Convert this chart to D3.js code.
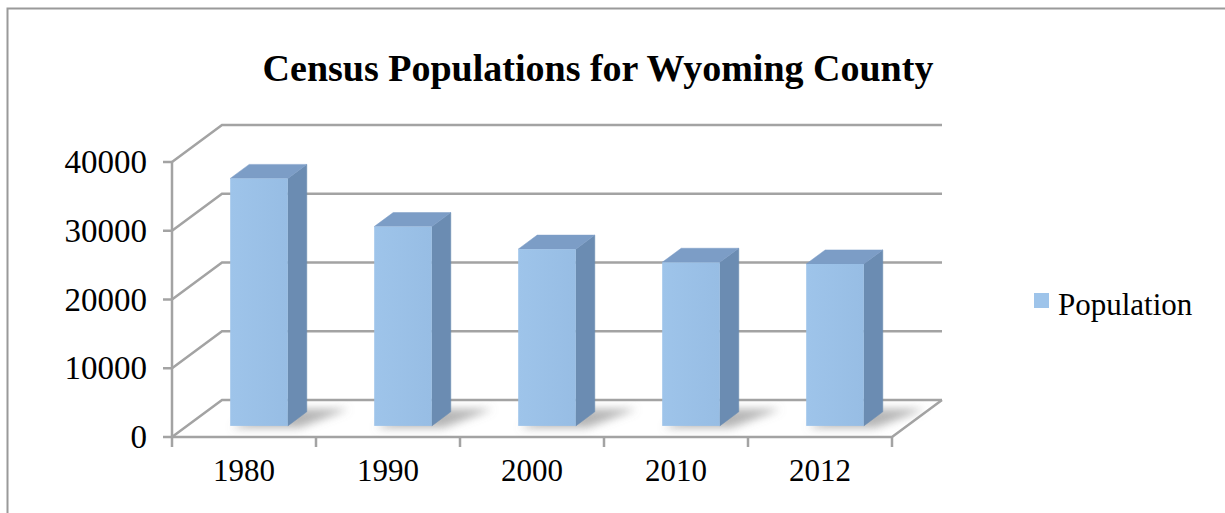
<!DOCTYPE html>
<html>
<head>
<meta charset="utf-8">
<script src="https://cdn.jsdelivr.net/npm/d3@7/dist/d3.min.js"></script>
<style>
  html, body { margin: 0; padding: 0; background: #fff; }
  svg { display: block; }
  text { font-family: "Liberation Serif", "Times New Roman", serif; fill: #000; }
</style>
</head>
<body>
<svg id="chart" width="1225" height="513"></svg>
<script>
// Census populations, Wyoming County
const years = ["1980", "1990", "2000", "2010", "2012"];
const population = [35993, 28990, 25708, 23796, 23550];
const yTicks = [0, 10000, 20000, 30000, 40000];
const seriesName = "Population";
const chartTitle = "Census Populations for Wyoming County";

const W = 1225, H = 513;
const svg = d3.select("#chart");

// front plane of the 3-D box
const x0 = 172, x1 = 892, yBase = 437, yTop = 162;
// depth offset of the back wall
const DX = 50, DY = 37;
// bar occupies this slice of the depth
const f0 = 0.30, f1 = 0.68;

const x = d3.scaleBand().domain(years).range([x0, x1]).paddingInner(0.6).paddingOuter(0.3);
const edge = d3.scaleLinear().domain([0, years.length]).range([x0, x1]);
const y = d3.scaleLinear().domain([0, 40000]).range([yBase, yTop]);

const P = (px, v, f) => [px + f * DX, y(v) - f * DY];
const line = d3.line();

const grid = "#a3a3a3";

// outer frame
svg.append("path")
  .attr("d", `M7.5,${H} L7.5,8.5 L${W},8.5`)
  .attr("fill", "none").attr("stroke", "#9a9a9a").attr("stroke-width", 2);

// title
svg.append("text")
  .attr("x", 598).attr("y", 81)
  .attr("text-anchor", "middle")
  .attr("font-size", 38).attr("font-weight", "bold")
  .text(chartTitle);

const defs = svg.append("defs");
defs.append("filter").attr("id", "soft")
  .attr("x", "-50%").attr("y", "-50%").attr("width", "200%").attr("height", "200%")
  .append("feGaussianBlur").attr("stdDeviation", 4.5);

const gGrid = svg.append("g");

// side wall diagonals and back-wall gridlines
yTicks.forEach(v => {
  gGrid.append("path")
    .attr("d", line([P(x0, v, 0), P(x0, v, 1), P(x1, v, 1)]))
    .attr("fill", "none").attr("stroke", grid).attr("stroke-width", 2.5);
});

// floor: front edge and right edge
gGrid.append("path")
  .attr("d", line([P(x0, 0, 0), P(x1, 0, 0), P(x1, 0, 1)]))
  .attr("fill", "none").attr("stroke", grid).attr("stroke-width", 2.5);

// value axis line and ticks
gGrid.append("line")
  .attr("x1", x0).attr("x2", x0).attr("y1", y(40000)).attr("y2", yBase)
  .attr("stroke", grid).attr("stroke-width", 2.5);
yTicks.forEach(v => {
  gGrid.append("line")
    .attr("x1", x0 - 9).attr("x2", x0).attr("y1", y(v)).attr("y2", y(v))
    .attr("stroke", grid).attr("stroke-width", 2.5);
});
// category ticks at band edges
d3.range(years.length + 1).forEach(i => {
  gGrid.append("line")
    .attr("x1", edge(i)).attr("x2", edge(i)).attr("y1", yBase).attr("y2", yBase + 10)
    .attr("stroke", grid).attr("stroke-width", 2.5);
});

// shadows on the floor
const gShadow = svg.append("g").attr("filter", "url(#soft)");
years.forEach((yr, i) => {
  const a = x(yr), b = x(yr) + x.bandwidth();
  gShadow.append("path")
    .attr("d", line([P(a + 4, 0, f0 - 0.05), P(b + 14, 0, f0 - 0.05), P(b + 38, 0, f1 + 0.08), P(a + 14, 0, f1 + 0.08)]) + "Z")
    .attr("fill", "#7a7a7a").attr("opacity", 0.55);
});

// bars
const grad = defs.append("linearGradient").attr("id", "front").attr("x1", 0).attr("x2", 1).attr("y1", 0).attr("y2", 0);
grad.append("stop").attr("offset", 0).attr("stop-color", "#9ec4ea");
grad.append("stop").attr("offset", 1).attr("stop-color", "#97bde4");

const gBars = svg.append("g");
years.forEach((yr, i) => {
  const v = population[i];
  const a = x(yr), b = x(yr) + x.bandwidth();
  const g = gBars.append("g");
  // right side face
  g.append("path")
    .attr("d", line([P(b, 0, f0), P(b, 0, f1), P(b, v, f1), P(b, v, f0)]) + "Z")
    .attr("fill", "#6b8cb2").attr("stroke", "#6b8cb2").attr("stroke-width", 0.5);
  // top face
  g.append("path")
    .attr("d", line([P(a, v, f0), P(b, v, f0), P(b, v, f1), P(a, v, f1)]) + "Z")
    .attr("fill", "#7c9dc6").attr("stroke", "#7c9dc6").attr("stroke-width", 0.5);
  // front face
  const [fx, fy] = P(a, v, f0);
  const [, fb] = P(a, 0, f0);
  g.append("rect")
    .attr("x", fx).attr("y", fy).attr("width", x.bandwidth()).attr("height", fb - fy)
    .attr("fill", "url(#front)");
});

// value labels
svg.append("g").selectAll("text").data(yTicks).join("text")
  .attr("x", 147).attr("y", d => y(d) + 11)
  .attr("text-anchor", "end").attr("font-size", 33)
  .text(d => d);

// category labels
svg.append("g").selectAll("text").data(years).join("text")
  .attr("x", d => x(d) + x.bandwidth() / 2).attr("y", 481)
  .attr("text-anchor", "middle").attr("font-size", 31)
  .text(d => d);

// legend
svg.append("rect").attr("x", 1034).attr("y", 293).attr("width", 15).attr("height", 15).attr("fill", "#9ec4ea");
svg.append("text").attr("x", 1058).attr("y", 315).attr("font-size", 31).text(seriesName);
</script>
</body>
</html>
